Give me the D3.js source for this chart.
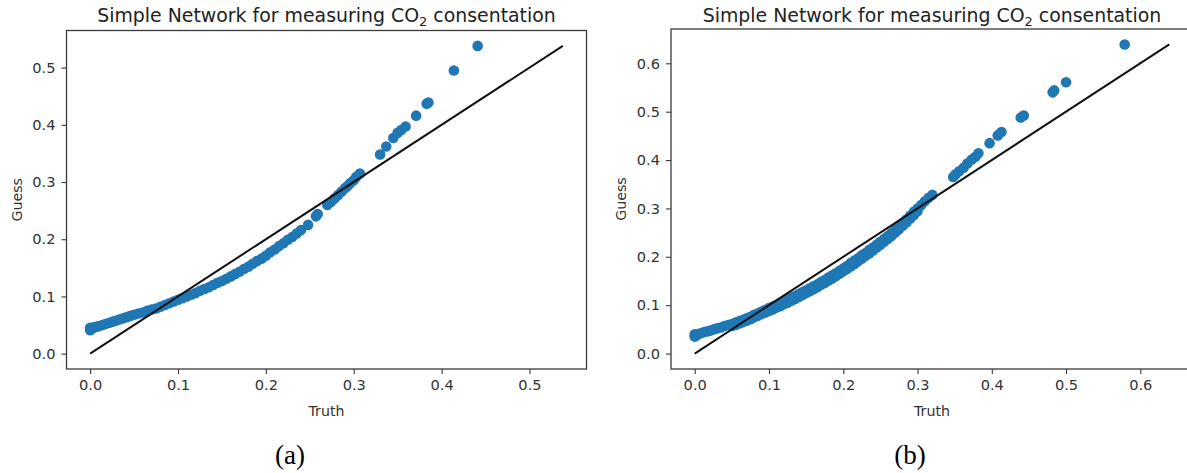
<!DOCTYPE html>
<html>
<head>
<meta charset="utf-8">
<script src="https://cdn.jsdelivr.net/npm/d3@7"></script>
<style>
  body { margin: 0; background: #fff; }
  svg { display: block; }
</style>
</head>
<body>
<svg id="chart" width="1187" height="473"></svg>
<script>
// (truth, guess) pairs
const pointsA = [
  [0.000, 0.041], [0.000, 0.045], [0.002, 0.043], [0.004, 0.046], [0.007, 0.047],
  [0.010, 0.048], [0.014, 0.050], [0.018, 0.052], [0.022, 0.054], [0.026, 0.056],
  [0.030, 0.058], [0.034, 0.060], [0.038, 0.062], [0.042, 0.064], [0.046, 0.066],
  [0.050, 0.068], [0.055, 0.070], [0.060, 0.072], [0.065, 0.075], [0.070, 0.077],
  [0.075, 0.079], [0.080, 0.082], [0.085, 0.085], [0.090, 0.088], [0.095, 0.091],
  [0.100, 0.094], [0.105, 0.097], [0.110, 0.100], [0.115, 0.103], [0.120, 0.106],
  [0.125, 0.110], [0.130, 0.113], [0.135, 0.116], [0.140, 0.120], [0.145, 0.124],
  [0.150, 0.127], [0.155, 0.131], [0.160, 0.135], [0.165, 0.139], [0.170, 0.143],
  [0.175, 0.148], [0.180, 0.152], [0.185, 0.157], [0.190, 0.162], [0.195, 0.166],
  [0.200, 0.171], [0.205, 0.177], [0.210, 0.182], [0.215, 0.188], [0.220, 0.193],
  [0.225, 0.199], [0.230, 0.204], [0.235, 0.210], [0.240, 0.216], [0.248, 0.225],
  [0.257, 0.240], [0.259, 0.244], [0.270, 0.260], [0.274, 0.265], [0.278, 0.271],
  [0.282, 0.277], [0.286, 0.283], [0.290, 0.289], [0.293, 0.293], [0.296, 0.298],
  [0.300, 0.303], [0.303, 0.309], [0.307, 0.315], [0.330, 0.348], [0.337, 0.362],
  [0.345, 0.377], [0.350, 0.386], [0.354, 0.391], [0.359, 0.397], [0.371, 0.416],
  [0.383, 0.437], [0.385, 0.439], [0.414, 0.495], [0.441, 0.538]
];

// (truth, guess) pairs
const pointsB = [
  [0.000, 0.035], [0.000, 0.040], [0.003, 0.038], [0.006, 0.041], [0.010, 0.043],
  [0.014, 0.045], [0.018, 0.046], [0.022, 0.048], [0.026, 0.050], [0.030, 0.052],
  [0.035, 0.054], [0.040, 0.057], [0.045, 0.059], [0.050, 0.061], [0.055, 0.064],
  [0.060, 0.067], [0.065, 0.070], [0.070, 0.073], [0.075, 0.076], [0.080, 0.080],
  [0.085, 0.083], [0.090, 0.087], [0.095, 0.090], [0.100, 0.094], [0.105, 0.097],
  [0.110, 0.100], [0.115, 0.104], [0.120, 0.107], [0.125, 0.111], [0.130, 0.115],
  [0.135, 0.119], [0.140, 0.123], [0.145, 0.127], [0.150, 0.131], [0.155, 0.135],
  [0.160, 0.139], [0.165, 0.143], [0.170, 0.148], [0.175, 0.152], [0.180, 0.157],
  [0.185, 0.162], [0.190, 0.166], [0.195, 0.171], [0.200, 0.176], [0.205, 0.181],
  [0.210, 0.187], [0.215, 0.192], [0.220, 0.197], [0.225, 0.203], [0.230, 0.208],
  [0.235, 0.214], [0.240, 0.219], [0.245, 0.225], [0.250, 0.231], [0.255, 0.237],
  [0.260, 0.243], [0.265, 0.249], [0.270, 0.256], [0.275, 0.263], [0.280, 0.270],
  [0.285, 0.277], [0.290, 0.285], [0.295, 0.293], [0.300, 0.300], [0.305, 0.307],
  [0.310, 0.315], [0.315, 0.322], [0.320, 0.328],
  // lower edge of the thick band
  [0.050, 0.057], [0.055, 0.059], [0.060, 0.062], [0.065, 0.065], [0.070, 0.068],
  [0.075, 0.071], [0.080, 0.075], [0.085, 0.078], [0.090, 0.082], [0.095, 0.085],
  [0.100, 0.088], [0.105, 0.091], [0.110, 0.095], [0.115, 0.098], [0.120, 0.102],
  [0.125, 0.105], [0.130, 0.109], [0.135, 0.113], [0.140, 0.117], [0.145, 0.121],
  [0.150, 0.125], [0.155, 0.129], [0.160, 0.133], [0.165, 0.137], [0.170, 0.142],
  [0.175, 0.146], [0.180, 0.151], [0.185, 0.155], [0.190, 0.160], [0.195, 0.165],
  [0.200, 0.170], [0.205, 0.175], [0.210, 0.180], [0.215, 0.185], [0.220, 0.191],
  [0.225, 0.196], [0.230, 0.202], [0.235, 0.207], [0.240, 0.213], [0.245, 0.219],
  [0.250, 0.225], [0.255, 0.231], [0.260, 0.237], [0.265, 0.243], [0.270, 0.250],
  [0.275, 0.257], [0.280, 0.264], [0.285, 0.271], [0.290, 0.279], [0.295, 0.286],
  [0.300, 0.294],
  [0.348, 0.365], [0.351, 0.370], [0.356, 0.377], [0.362, 0.384], [0.367, 0.393],
  [0.373, 0.401], [0.378, 0.407], [0.382, 0.414], [0.397, 0.435], [0.408, 0.451],
  [0.413, 0.458], [0.439, 0.488], [0.443, 0.492], [0.482, 0.540], [0.484, 0.544],
  [0.500, 0.561], [0.579, 0.639]
];

const lineMaxA = 0.538;
const lineMaxB = 0.639;
const ticksA = [0.0, 0.1, 0.2, 0.3, 0.4, 0.5];
const ticksB = [0.0, 0.1, 0.2, 0.3, 0.4, 0.5, 0.6];
const captions = ['(a)', '(b)'];

const svg = d3.select('#chart');
const font = '"DejaVu Sans", sans-serif';
const fmt = d3.format('.1f');

function drawPanel(opts) {
  const { points, lineMax, ticks, left, right, top, bottom, caption, captionX } = opts;
  const pad = lineMax * 0.05;

  const x = d3.scaleLinear()
    .domain([-pad, lineMax + pad])
    .range([left, right]);

  const y = d3.scaleLinear()
    .domain([-pad, lineMax + pad])
    .range([bottom, top]);

  const g = svg.append('g');

  g.append('g')
    .selectAll('circle')
    .data(points)
    .enter()
    .append('circle')
    .attr('cx', d => x(d[0]))
    .attr('cy', d => y(d[1]))
    .attr('r', 5.3)
    .attr('fill', '#1f77b4');

  g.append('line')
    .attr('x1', x(0))
    .attr('y1', y(0))
    .attr('x2', x(lineMax))
    .attr('y2', y(lineMax))
    .attr('stroke', '#111')
    .attr('stroke-width', 2);

  // frame
  g.append('rect')
    .attr('x', left)
    .attr('y', top)
    .attr('width', right - left)
    .attr('height', bottom - top)
    .attr('fill', 'none')
    .attr('stroke', '#3a3a3a')
    .attr('stroke-width', 1.3);

  const xAxis = g.append('g')
    .attr('transform', `translate(0,${bottom})`)
    .call(d3.axisBottom(x).tickValues(ticks).tickFormat(fmt).tickSize(5).tickPadding(6));

  const yAxis = g.append('g')
    .attr('transform', `translate(${left},0)`)
    .call(d3.axisLeft(y).tickValues(ticks).tickFormat(fmt).tickSize(5).tickPadding(6));

  [xAxis, yAxis].forEach(a => {
    a.select('.domain').remove();
    a.selectAll('line').attr('stroke', '#3a3a3a').attr('stroke-width', 1.1);
    a.selectAll('text')
      .attr('fill', '#333')
      .style('font-family', font)
      .style('font-size', '14.6px');
  });

  const cx = (left + right) / 2;

  g.append('text')
    .attr('x', cx)
    .attr('y', 416)
    .attr('text-anchor', 'middle')
    .attr('fill', '#333')
    .style('font-family', font)
    .style('font-size', '14.2px')
    .text('Truth');

  g.append('text')
    .attr('transform', `translate(${left - 45},${(top + bottom) / 2}) rotate(-90)`)
    .attr('text-anchor', 'middle')
    .attr('fill', '#333')
    .style('font-family', font)
    .style('font-size', '14.2px')
    .text('Guess');

  const title = g.append('text')
    .attr('x', cx)
    .attr('y', 22)
    .attr('text-anchor', 'middle')
    .attr('fill', '#222')
    .style('font-family', font)
    .style('font-size', '18.9px');
  title.append('tspan').text('Simple Network for measuring CO');
  title.append('tspan').attr('dy', 4).style('font-size', '13px').text('2');
  title.append('tspan').attr('dy', -4).text(' consentation');

  svg.append('text')
    .attr('x', captionX)
    .attr('y', 464)
    .attr('text-anchor', 'middle')
    .attr('fill', '#000')
    .style('font-family', '"Liberation Serif", "DejaVu Serif", serif')
    .style('font-size', '27px')
    .text(caption);
}

drawPanel({
  points: pointsA, lineMax: lineMaxA, ticks: ticksA,
  left: 66.5, right: 586.5, top: 30.5, bottom: 369,
  caption: captions[0], captionX: 290
});

drawPanel({
  points: pointsB, lineMax: lineMaxB, ticks: ticksB,
  left: 671, right: 1193, top: 29, bottom: 369,
  caption: captions[1], captionX: 910
});
</script>
</body>
</html>
